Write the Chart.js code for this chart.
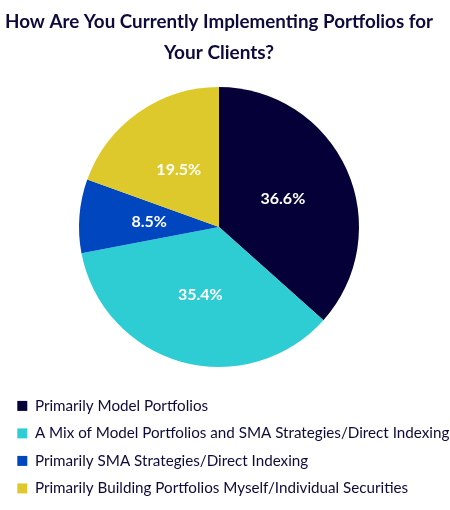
<!doctype html>
<html lang="en">
  <head>
    <meta charset="UTF-8" />
    <title>Portfolio Implementation</title>
    <style>
      html, body { margin: 0; padding: 0; background: #ffffff; }
      .chart-container { width: 450px; height: 510px; }
    </style>
  </head>
  <body>
    <div class="chart-container">
      <canvas id="pieChart"></canvas>
    </div>
    <script src="https://cdn.jsdelivr.net/npm/chart.js"></script>
    <script>
      const categories = [
        "Primarily Model Portfolios",
        "A Mix of Model Portfolios and SMA Strategies/Direct Indexing",
        "Primarily SMA Strategies/Direct Indexing",
        "Primarily Building Portfolios Myself/Individual Securities",
      ];
      const shares = [36.6, 35.4, 8.5, 19.5];
      const sliceColors = ["#050038", "#2ecdd3", "#0046be", "#dec92c"];
      const titleLines = ["How Are You Currently Implementing Portfolios for", "Your Clients?"];

      const fontFamily = "Lato, 'Noto Sans', sans-serif";
      const navy = "#0d0b3b";

      // draws the percentage inside each slice
      const sliceLabels = {
        id: "sliceLabels",
        afterDatasetsDraw(chart) {
          const ctx = chart.ctx;
          const meta = chart.getDatasetMeta(0);
          ctx.save();
          ctx.font = "bold 16px " + fontFamily;
          ctx.fillStyle = "#ffffff";
          ctx.textAlign = "center";
          ctx.textBaseline = "middle";
          meta.data.forEach((arc, i) => {
            const pos = arc.tooltipPosition();
            ctx.fillText(shares[i].toFixed(1) + "%", pos.x, pos.y);
          });
          ctx.restore();
        },
      };

      // let the legend run to the right edge so the long label is not clipped
      const wideLegend = {
        id: "wideLegend",
        afterLayout(chart) {
          if (chart.legend) {
            chart.legend.right = chart.width;
            chart.legend.width = chart.legend.right - chart.legend.left;
          }
        },
      };

      const ctx = document.getElementById("pieChart").getContext("2d");
      const chart = new Chart(ctx, {
        type: "pie",
        data: {
          labels: categories,
          datasets: [
            {
              data: shares,
              backgroundColor: sliceColors,
              borderWidth: 0,
              radius: 140,
            },
          ],
        },
        options: {
          responsive: true,
          maintainAspectRatio: false,
          animation: false,
          layout: {
            padding: { left: 5, right: 17, top: 0, bottom: 4 },
          },
          plugins: {
            title: {
              display: true,
              text: titleLines,
              color: navy,
              font: { family: fontFamily, size: 19, weight: "bold", lineHeight: 1.63 },
              padding: { top: 6, bottom: 0 },
            },
            legend: {
              position: "bottom",
              align: "start",
              labels: {
                color: navy,
                font: { family: fontFamily, size: 15.2 },
                boxWidth: 10,
                boxHeight: 10,
                padding: 12.3,
              },
            },
            tooltip: { enabled: false },
          },
        },
        plugins: [sliceLabels, wideLegend],
      });
    </script>
  </body>
</html>
